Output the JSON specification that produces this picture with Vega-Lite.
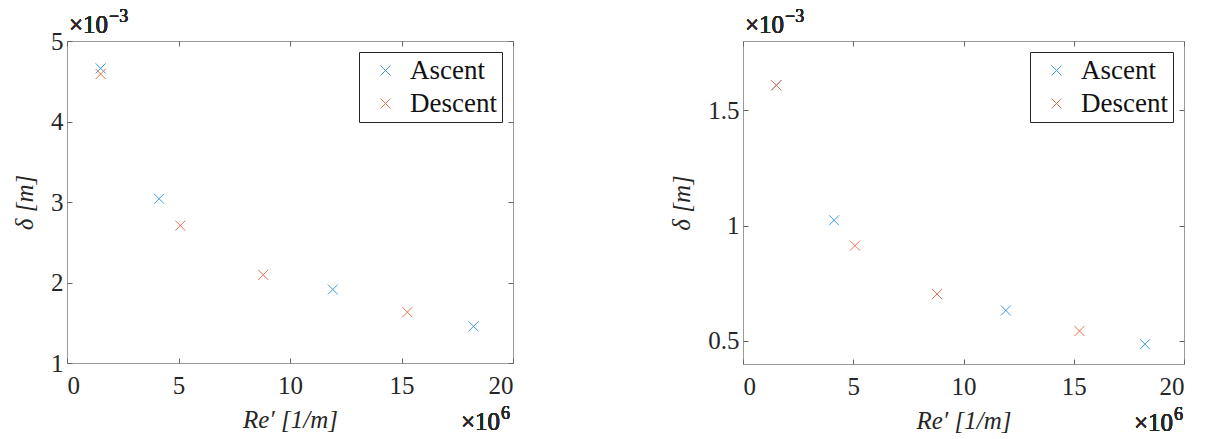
{
  "$schema": "https://vega.github.io/schema/vega-lite/v6.json",
  "padding": {"left": 12, "top": 7, "right": 5, "bottom": 0},
  "background": "white",
  "datasets": {
    "left": [
      {"phase": "Ascent", "Re": 1510000, "delta": 0.00466},
      {"phase": "Ascent", "Re": 4130000, "delta": 0.00304},
      {"phase": "Ascent", "Re": 11920000, "delta": 0.001913},
      {"phase": "Ascent", "Re": 18230000, "delta": 0.001455},
      {"phase": "Descent", "Re": 1510000, "delta": 0.00459},
      {"phase": "Descent", "Re": 5080000, "delta": 0.002707},
      {"phase": "Descent", "Re": 8800000, "delta": 0.002095},
      {"phase": "Descent", "Re": 15260000, "delta": 0.001632}
    ],
    "right": [
      {"phase": "Ascent", "Re": 1510000, "delta": 0.001608},
      {"phase": "Ascent", "Re": 4130000, "delta": 0.001023},
      {"phase": "Ascent", "Re": 11920000, "delta": 0.000632},
      {"phase": "Ascent", "Re": 18230000, "delta": 0.000486},
      {"phase": "Descent", "Re": 1510000, "delta": 0.001608},
      {"phase": "Descent", "Re": 5080000, "delta": 0.000913},
      {"phase": "Descent", "Re": 8800000, "delta": 0.000703},
      {"phase": "Descent", "Re": 15260000, "delta": 0.000543}
    ]
  },
  "config": {
    "font": "Liberation Serif",
    "view": {"stroke": "#9a9a9a", "strokeWidth": 1},
    "axis": {
      "domain": false,
      "grid": false,
      "tickColor": "#666666",
      "tickSize": -5,
      "labelFont": "Liberation Serif",
      "labelFontSize": 25,
      "labelColor": "#262626",
      "titleFont": "Liberation Serif",
      "titleFontSize": 25,
      "titleFontWeight": "normal",
      "titleColor": "#262626"
    },
    "legend": {
      "orient": "top-right",
      "offset": 11,
      "strokeColor": "#262626",
      "fillColor": "white",
      "padding": 5,
      "rowPadding": 5,
      "labelFont": "Liberation Serif",
      "labelFontSize": 27,
      "labelColor": "#111111",
      "symbolSize": 100,
      "symbolStrokeWidth": 1,
      "symbolOffset": 8,
      "labelOffset": 11
    }
  },
  "spacing": 155,
  "hconcat": [
    {
      "width": 446,
      "height": 322,
      "data": {"name": "left"},
      "layer": [
        {
          "mark": {"type": "point", "shape": "M-1,-1L1,1M1,-1L-1,1", "filled": false, "strokeWidth": 1, "size": 100, "opacity": 1},
          "encoding": {
            "x": {"field": "Re", "type": "quantitative", "scale": {"domain": [0, 20000000], "nice": false},
              "axis": {"title": "Re′ [1/m]", "titleFontStyle": "italic", "values": [0, 5000000, 10000000, 15000000, 20000000], "labelExpr": "format(datum.value/1e6, '~g')", "labelPadding": 15, "titlePadding": 9}},
            "y": {"field": "delta", "type": "quantitative", "scale": {"domain": [0.001, 0.005], "nice": false, "zero": false},
              "axis": {"title": "δ [m]", "titleFontStyle": "italic", "values": [0.001, 0.002, 0.003, 0.004, 0.005], "labelExpr": "format(datum.value*1000, '.2~f')", "labelPadding": 9, "titlePadding": 13}},
            "color": {"field": "phase", "type": "nominal", "scale": {"domain": ["Ascent", "Descent"], "range": ["#3d9be0", "#e8704d"]},
              "legend": {"title": null, "symbolType": "M-1,-1L1,1M1,-1L-1,1",
                "encode": {"symbols": {"update": {"stroke": {"signal": "datum.value === 'Ascent' ? '#3d9be0' : '#e8704d'"}, "fill": {"value": "transparent"}, "opacity": {"value": 1}}}}}}
          }
        },
        {
          "mark": {"type": "point", "opacity": 0},
          "encoding": {
            "x": {"field": "Re", "type": "quantitative", "axis": {"orient": "top", "labels": false, "title": null, "values": [0, 5000000, 10000000, 15000000, 20000000]}},
            "y": {"field": "delta", "type": "quantitative", "axis": {"orient": "right", "labels": false, "title": null, "values": [0.001, 0.002, 0.003, 0.004, 0.005]}}
          }
        },
        {
          "mark": {"type": "text", "text": "×10", "align": "left", "baseline": "alphabetic", "dx": 2, "dy": -8, "font": "Liberation Serif", "fontSize": 25, "fontWeight": "normal", "color": "#262626"},
          "encoding": {"x": {"datum": 0, "axis": null}, "y": {"datum": 0.005, "axis": null}}
        },
        {
          "mark": {"type": "text", "text": "−3", "align": "left", "baseline": "alphabetic", "dx": 42, "dy": -19, "font": "Liberation Serif", "fontSize": 18, "fontWeight": "normal", "color": "#262626"},
          "encoding": {"x": {"datum": 0, "axis": null}, "y": {"datum": 0.005, "axis": null}}
        },
        {
          "mark": {"type": "text", "text": "×10", "align": "right", "baseline": "alphabetic", "dx": -13, "dy": 67, "font": "Liberation Serif", "fontSize": 25, "fontWeight": "normal", "color": "#262626"},
          "encoding": {"x": {"datum": 20000000, "axis": null}, "y": {"datum": 0.001, "axis": null}}
        },
        {
          "mark": {"type": "text", "text": "6", "align": "right", "baseline": "alphabetic", "dx": -3, "dy": 56, "font": "Liberation Serif", "fontSize": 18, "fontWeight": "normal", "color": "#262626"},
          "encoding": {"x": {"datum": 20000000, "axis": null}, "y": {"datum": 0.001, "axis": null}}
        }
      ],
      "resolve": {"axis": {"x": "independent", "y": "independent"}}
    },
    {
      "width": 441,
      "height": 323,
      "data": {"name": "right"},
      "layer": [
        {
          "mark": {"type": "point", "shape": "M-1,-1L1,1M1,-1L-1,1", "filled": false, "strokeWidth": 1, "size": 100, "opacity": 1},
          "encoding": {
            "x": {"field": "Re", "type": "quantitative", "scale": {"domain": [0, 20000000], "nice": false},
              "axis": {"title": "Re′ [1/m]", "titleFontStyle": "italic", "values": [0, 5000000, 10000000, 15000000, 20000000], "labelExpr": "format(datum.value/1e6, '~g')", "labelPadding": 15, "titlePadding": 9}},
            "y": {"field": "delta", "type": "quantitative", "scale": {"domain": [0.0004, 0.0018], "nice": false, "zero": false},
              "axis": {"title": "δ [m]", "titleFontStyle": "italic", "values": [0.0005, 0.001, 0.0015], "labelExpr": "format(datum.value*1000, '.2~f')", "labelPadding": 9, "titlePadding": 13}},
            "color": {"field": "phase", "type": "nominal", "scale": {"domain": ["Ascent", "Descent"], "range": ["#3d9be0", "#e8704d"]},
              "legend": {"title": null, "symbolType": "M-1,-1L1,1M1,-1L-1,1",
                "encode": {"symbols": {"update": {"stroke": {"signal": "datum.value === 'Ascent' ? '#3d9be0' : '#e8704d'"}, "fill": {"value": "transparent"}, "opacity": {"value": 1}}}}}}
          }
        },
        {
          "mark": {"type": "point", "opacity": 0},
          "encoding": {
            "x": {"field": "Re", "type": "quantitative", "axis": {"orient": "top", "labels": false, "title": null, "values": [0, 5000000, 10000000, 15000000, 20000000]}},
            "y": {"field": "delta", "type": "quantitative", "axis": {"orient": "right", "labels": false, "title": null, "values": [0.0005, 0.001, 0.0015]}}
          }
        },
        {
          "mark": {"type": "text", "text": "×10", "align": "left", "baseline": "alphabetic", "dx": 2, "dy": -8, "font": "Liberation Serif", "fontSize": 25, "fontWeight": "normal", "color": "#262626"},
          "encoding": {"x": {"datum": 0, "axis": null}, "y": {"datum": 0.0018, "axis": null}}
        },
        {
          "mark": {"type": "text", "text": "−3", "align": "left", "baseline": "alphabetic", "dx": 42, "dy": -19, "font": "Liberation Serif", "fontSize": 18, "fontWeight": "normal", "color": "#262626"},
          "encoding": {"x": {"datum": 0, "axis": null}, "y": {"datum": 0.0018, "axis": null}}
        },
        {
          "mark": {"type": "text", "text": "×10", "align": "right", "baseline": "alphabetic", "dx": -11, "dy": 67, "font": "Liberation Serif", "fontSize": 25, "fontWeight": "normal", "color": "#262626"},
          "encoding": {"x": {"datum": 20000000, "axis": null}, "y": {"datum": 0.0004, "axis": null}}
        },
        {
          "mark": {"type": "text", "text": "6", "align": "right", "baseline": "alphabetic", "dx": -1, "dy": 56, "font": "Liberation Serif", "fontSize": 18, "fontWeight": "normal", "color": "#262626"},
          "encoding": {"x": {"datum": 20000000, "axis": null}, "y": {"datum": 0.0004, "axis": null}}
        }
      ],
      "resolve": {"axis": {"x": "independent", "y": "independent"}}
    }
  ],
  "resolve": {"scale": {"color": "shared"}, "legend": {"color": "independent"}}
}
